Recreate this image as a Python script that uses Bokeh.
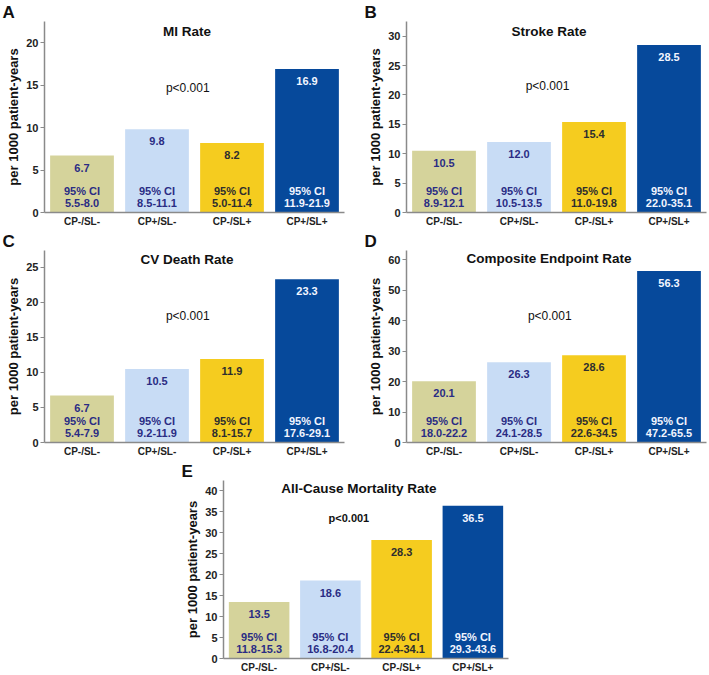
from bokeh.plotting import figure
from bokeh.models import Label, FactorRange, Range1d, SingleIntervalTicker, ColumnDataSource, Spacer
from bokeh.layouts import row, column
from bokeh.core.properties import value
from bokeh.embed import file_html
from bokeh.resources import INLINE

FONT = "Liberation Sans"

categories = ["CP-/SL-", "CP+/SL-", "CP-/SL+", "CP+/SL+"]
bar_colors = ["#d5d39b", "#c8dcf5", "#f5cc1f", "#06499b"]
text_colors = ["#2a2c84", "#2a2c84", "#2e2e2e", "#f2f5ff"]

mi_rate = [6.7, 9.8, 8.2, 16.9]
mi_ci = ["5.5-8.0", "8.5-11.1", "5.0-11.4", "11.9-21.9"]
stroke_rate = [10.5, 12.0, 15.4, 28.5]
stroke_ci = ["8.9-12.1", "10.5-13.5", "11.0-19.8", "22.0-35.1"]
cv_death_rate = [6.7, 10.5, 11.9, 23.3]
cv_death_ci = ["5.4-7.9", "9.2-11.9", "8.1-15.7", "17.6-29.1"]
composite_rate = [20.1, 26.3, 28.6, 56.3]
composite_ci = ["18.0-22.2", "24.1-28.5", "22.6-34.5", "47.2-65.5"]
mortality_rate = [13.5, 18.6, 28.3, 36.5]
mortality_ci = ["11.8-15.3", "16.8-20.4", "22.4-34.1", "29.3-43.6"]
p_value_text = "p<0.001"
ci_head = "95% CI"
y_label = "per 1000 patient-years"

LEFT = 44
TOP = 21


def make_panel(letter, title, values, cis, y_max, tick_step, frame_w, border_r,
               frame_h, border_b, p_frac, p_x, title_dy, p_bold=False):
    p = figure(x_range=FactorRange(*categories), y_range=Range1d(0, y_max),
               width=LEFT + frame_w + border_r, height=TOP + frame_h + border_b,
               min_border_left=LEFT, min_border_right=border_r,
               min_border_top=TOP, min_border_bottom=border_b,
               output_backend="svg", toolbar_location=None,
               title=letter, title_location="above")
    p.title.text_font = FONT
    p.title.text_font_style = "bold"
    p.title.text_font_size = "17px"
    p.title.text_color = "#111111"
    p.title.align = "left"
    p.title.offset = -42
    p.title.standoff = 0

    src = ColumnDataSource(dict(
        cat=categories, val=values, color=bar_colors, tcolor=text_colors,
        label=[f"{v:.1f}" for v in values], ci=cis, head=[ci_head] * len(values),
        zero=[0] * len(values)))
    p.vbar(x="cat", top="val", width=0.85, source=src, fill_color="color", line_color=None)
    common = dict(text_font=value(FONT), text_font_style="bold", text_font_size="11px",
                  text_color="tcolor", text_align="center", text_baseline="middle", source=src)
    p.text(x="cat", y="val", text="label", y_offset=12, **common)
    p.text(x="cat", y="zero", text="head", y_offset=-22, **common)
    p.text(x="cat", y="zero", text="ci", y_offset=-10, **common)

    p.add_layout(Label(x=1.9, y=y_max, y_offset=-title_dy, text=title, text_font=FONT,
                       text_font_style="bold", text_font_size="13.5px", text_color="#111111",
                       text_align="center", text_baseline="middle"))
    p.add_layout(Label(x=p_x, y=y_max * p_frac, text=p_value_text, text_font=FONT,
                       text_font_style="bold" if p_bold else "normal",
                       text_font_size="11px" if p_bold else "12px", text_color="#111111",
                       text_align="center", text_baseline="middle"))

    p.xgrid.visible = False
    p.ygrid.visible = False
    p.outline_line_color = None
    p.background_fill_color = "white"
    p.border_fill_color = "white"

    ya = p.yaxis[0]
    ya.ticker = SingleIntervalTicker(interval=tick_step, num_minor_ticks=0)
    ya.axis_label = y_label
    ya.axis_label_text_font = FONT
    ya.axis_label_text_font_style = "bold"
    ya.axis_label_text_font_size = "13px"
    ya.axis_label_text_color = "#111111"
    ya.axis_label_standoff = 2
    ya.major_label_text_font = FONT
    ya.major_label_text_font_style = "bold"
    ya.major_label_text_font_size = "11px"
    ya.major_label_text_color = "#222222"
    ya.major_label_standoff = 2
    ya.major_tick_out = 4
    ya.major_tick_in = 0
    ya.major_tick_line_color = "#8a8a8a"
    ya.minor_tick_line_color = None
    ya.axis_line_color = "#8a8a8a"
    ya.axis_line_width = 1.5

    xa = p.xaxis[0]
    xa.axis_label = None
    xa.major_tick_line_color = None
    xa.major_tick_out = 0
    xa.major_tick_in = 0
    xa.major_label_standoff = 3
    xa.major_label_text_font = FONT
    xa.major_label_text_font_style = "bold"
    xa.major_label_text_font_size = "10px"
    xa.major_label_text_color = "#222222"
    xa.axis_line_color = "#8a8a8a"
    xa.axis_line_width = 1.5
    return p


pa = make_panel("A", "MI Rate", mi_rate, mi_ci, 22.5, 5, 300, 18, 192, 16, 0.65, 1.91, 10)
pb = make_panel("B", "Stroke Rate", stroke_rate, stroke_ci, 32.5, 5, 300, 3, 192, 16, 0.66, 1.88, 10)
pc = make_panel("C", "CV Death Rate", cv_death_rate, cv_death_ci, 27.4, 5, 300, 18, 193, 16, 0.66, 1.91, 9)
pd = make_panel("D", "Composite Endpoint Rate", composite_rate, composite_ci, 63, 10, 300, 3, 193, 16, 0.66, 1.91, 8)
pe = make_panel("E", "All-Cause Mortality Rate", mortality_rate, mortality_ci, 42.5, 5, 285, 10, 180, 15, 0.79, 1.76, 8, p_bold=True)

layout = column(row(pa, pb), row(pc, pd), row(Spacer(width=179, height=216), pe))

open("out.html", "w").write(file_html(layout, INLINE))
